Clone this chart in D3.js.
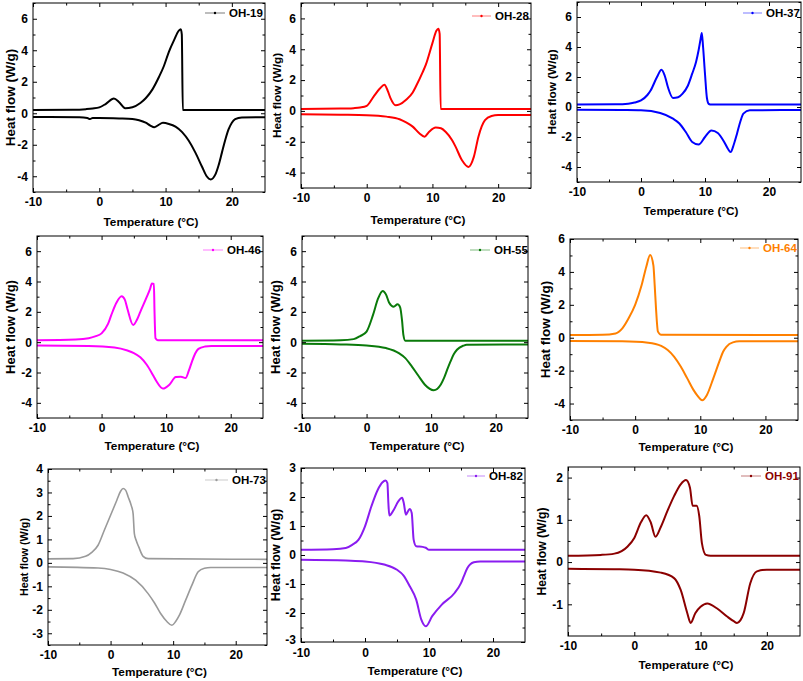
<!DOCTYPE html>
<html><head><meta charset="utf-8">
<script src="https://cdn.jsdelivr.net/npm/d3@7"></script>
<style>
html,body{margin:0;padding:0;background:#fff;}
svg{display:block;font-family:"Liberation Sans",Arial,sans-serif;}
</style></head>
<body>
<svg id="chart" width="803" height="681"></svg>
<script>
// ---- data: [temperature °C, heat flow W/g] ----
const sampleNames = ["OH-19","OH-28","OH-37","OH-46","OH-55","OH-64","OH-73","OH-82","OH-91"];
const sampleColors = ["#000000","#ff0000","#0000ff","#ff00ff","#0a7a0a","#ff8000","#9a9a9a","#8a1cf0","#8b0000"];
const legendTextColors = ["#000","#000","#000","#000","#000","#ff8000","#000","#000","#8b0000"];
const xTicksMajor = [-10,0,10,20];
const xTicksMinor = [-5,5,15];

const oh19Cool = [[-10,0.2],[-4,0.22],[-2,0.26],[-1,0.3],[0,0.37],[1,0.6],[2.2,0.93],[3,0.7],[3.9,0.32],[5,0.38],[6.2,0.65],[7,0.95],[8,1.5],[9,2.3],[9.75,3.0],[10.5,3.9],[11.3,4.66],[12,5.25],[12.3,5.34],[12.45,5.0],[12.6,0.2],[25,0.2]];
const oh19Heat = [[-10,-0.24],[-3,-0.26],[-1.8,-0.3],[-1.4,-0.37],[-1,-0.3],[0,-0.3],[3,-0.33],[5,-0.37],[6,-0.45],[7,-0.6],[7.7,-0.78],[8.3,-0.89],[8.9,-0.75],[9.6,-0.61],[10.5,-0.68],[11.5,-0.85],[12.5,-1.2],[13.5,-1.75],[14.5,-2.5],[15.5,-3.4],[16.2,-4.0],[16.8,-4.2],[17.5,-3.9],[18,-3.3],[18.5,-2.5],[19,-1.7],[19.5,-1.03],[20,-0.6],[20.5,-0.38],[21.5,-0.27],[25,-0.25]];
const oh28Cool = [[-10,0.13],[-4,0.15],[-2,0.18],[-1,0.22],[0,0.33],[1,0.9],[2,1.45],[2.7,1.7],[3.2,1.3],[3.6,0.85],[4.4,0.37],[5,0.42],[6,0.72],[7,1.2],[7.5,1.6],[8.5,2.5],[9,3.0],[10,4.4],[10.6,5.2],[10.9,5.33],[11.1,5.0],[11.25,0.13],[25,0.13]];
const oh28Heat = [[-10,-0.22],[-4,-0.25],[0,-0.28],[3,-0.37],[5,-0.54],[6,-0.75],[7,-1.02],[8,-1.45],[8.8,-1.67],[9.5,-1.35],[10.5,-1.07],[11.3,-1.12],[12,-1.35],[13,-1.9],[13.5,-2.3],[14.5,-3.2],[15.5,-3.63],[16.3,-2.98],[17,-1.67],[17.5,-1.0],[18,-0.59],[19,-0.33],[20,-0.27],[25,-0.27]];
const oh37Cool = [[-10,0.16],[-4,0.18],[-2,0.22],[-1,0.3],[0,0.44],[1,0.8],[1.5,1.1],[2.5,2.0],[3.2,2.49],[3.7,2.1],[4.2,1.33],[5,0.6],[5.8,0.65],[6.5,0.89],[7.3,1.4],[8,2.22],[8.6,3.0],[9,3.78],[9.3,4.5],[9.5,4.93],[9.7,4.0],[10,2.2],[10.3,0.6],[10.6,0.2],[11,0.16],[25,0.16]];
const oh37Heat = [[-10,-0.18],[-3,-0.2],[0,-0.22],[3,-0.4],[5,-0.78],[6,-1.1],[7,-1.67],[8,-2.33],[9,-2.5],[10,-2.0],[11,-1.56],[12,-1.73],[13,-2.33],[13.6,-2.8],[14,-3.0],[14.5,-2.5],[15,-1.78],[15.5,-1.0],[16,-0.44],[17,-0.22],[25,-0.2]];
const oh46Cool = [[-10,0.13],[-4,0.18],[-2,0.26],[-1,0.38],[0,0.58],[1,1.2],[1.5,1.78],[2.3,2.6],[3.1,3.03],[3.6,2.8],[4,2.2],[4.9,1.13],[5.5,1.5],[6,2.0],[7,2.98],[7.5,3.5],[7.8,3.86],[8.1,3.84],[8.2,2.0],[8.35,0.26],[8.7,0.13],[25,0.13]];
const oh46Heat = [[-10,-0.22],[-2,-0.25],[2,-0.35],[4,-0.55],[5,-0.72],[6,-1.0],[7,-1.49],[8,-2.2],[8.5,-2.58],[9.5,-3.06],[10.5,-2.8],[11.5,-2.3],[12.3,-2.28],[13,-2.37],[13.5,-1.9],[14,-1.28],[14.5,-0.75],[15,-0.44],[16,-0.29],[17,-0.25],[25,-0.25]];
const oh55Cool = [[-10,0.09],[-4,0.12],[-2,0.2],[-1,0.4],[0,0.7],[1,1.8],[1.8,2.9],[2.5,3.38],[3,3.15],[3.5,2.6],[4.2,2.34],[4.8,2.5],[5.2,2.3],[5.5,1.4],[5.7,0.48],[6,0.09],[25,0.09]];
const oh55Heat = [[-10,-0.11],[-4,-0.15],[0,-0.22],[3,-0.39],[5,-0.72],[6,-1.05],[7,-1.59],[8,-2.2],[9,-2.79],[10.4,-3.17],[11.5,-2.79],[12,-2.36],[12.5,-1.8],[13,-1.27],[13.5,-0.8],[14,-0.5],[15,-0.23],[15.5,-0.17],[25,-0.15]];
const oh64Cool = [[-10,0.16],[-5,0.18],[-3,0.26],[-2,0.55],[-1,1.18],[0,2.0],[1,3.2],[1.7,4.3],[2.3,5.03],[2.8,4.4],[3.0,3.2],[3.2,1.8],[3.5,0.37],[4,0.18],[25,0.16]];
const oh64Heat = [[-10,-0.2],[-2,-0.22],[2,-0.3],[4,-0.5],[5,-0.75],[6,-1.16],[7,-1.75],[8,-2.47],[9,-3.2],[9.5,-3.49],[10.3,-3.8],[11,-3.49],[12,-2.47],[13,-1.36],[13.5,-0.85],[14,-0.55],[15,-0.28],[16,-0.22],[25,-0.22]];
const oh73Cool = [[-10,0.17],[-6,0.18],[-4,0.28],[-3,0.45],[-2,0.75],[-1,1.39],[0,2.03],[1,2.67],[1.6,3.05],[2,3.17],[2.4,3.1],[2.8,2.82],[3.3,2.45],[3.6,2.1],[3.8,1.25],[4.1,0.95],[4.5,0.68],[5.2,0.28],[6,0.18],[25,0.15]];
const oh73Heat = [[-10,-0.17],[-2,-0.22],[0,-0.28],[2,-0.43],[4,-0.74],[6,-1.31],[7,-1.7],[8,-2.16],[9,-2.5],[9.8,-2.66],[10.4,-2.5],[11,-2.23],[12,-1.59],[13,-0.95],[14,-0.38],[15,-0.23],[16,-0.2],[25,-0.2]];
const oh82Cool = [[-10,0.18],[-5,0.2],[-3,0.24],[-2,0.35],[-1,0.53],[0,0.99],[1,1.68],[2,2.25],[2.7,2.5],[3.2,2.57],[3.5,2.48],[3.65,1.8],[3.8,1.36],[4.5,1.56],[5.2,1.85],[5.8,1.97],[6.05,1.8],[6.4,1.39],[6.7,1.5],[7,1.59],[7.3,1.45],[7.6,0.53],[8,0.3],[9,0.28],[9.5,0.25],[10,0.18],[25,0.18]];
const oh82Heat = [[-10,-0.16],[-3,-0.19],[0,-0.22],[3,-0.33],[5,-0.51],[6,-0.7],[7,-1.08],[8,-1.54],[8.8,-2.23],[9.5,-2.46],[10.5,-2.11],[12,-1.71],[14,-1.31],[15,-0.97],[15.5,-0.7],[16,-0.45],[17,-0.25],[18,-0.22],[25,-0.22]];
const oh91Cool = [[-10,0.15],[-5,0.17],[-3,0.2],[-1,0.37],[0,0.57],[1,0.94],[1.8,1.11],[2.5,0.93],[3.2,0.6],[4,0.83],[5,1.21],[6,1.56],[7,1.84],[7.8,1.94],[8.4,1.76],[8.8,1.33],[9.4,1.33],[9.8,1.09],[10.2,0.45],[10.8,0.17],[11.5,0.15],[25,0.15]];
const oh91Heat = [[-10,-0.16],[-3,-0.17],[0,-0.18],[4,-0.25],[6,-0.38],[7,-0.66],[8,-1.21],[8.5,-1.44],[9.2,-1.21],[10,-1.06],[11,-0.98],[12.5,-1.1],[14,-1.29],[15,-1.4],[15.5,-1.44],[16,-1.38],[16.5,-1.21],[17.5,-0.5],[18.5,-0.22],[20,-0.18],[25,-0.18]];

const yDomains = [[-5,7],[-5,7],[-5,7],[-5,7],[-5,7],[-5,6],[-3.5,4],[-3,3],[-1.75,2.25]];
const yTicksMajor = [[-4,-2,0,2,4,6],[-4,-2,0,2,4,6],[-4,-2,0,2,4,6],[-4,-2,0,2,4,6],[-4,-2,0,2,4,6],[-4,-2,0,2,4,6],[-3,-2,-1,0,1,2,3,4],[-3,-2,-1,0,1,2,3],[-1,0,1,2]];
const yTicksMinor = [[-5,-3,-1,1,3,5,7],[-5,-3,-1,1,3,5,7],[-5,-3,-1,1,3,5,7],[-5,-3,-1,1,3,5,7],[-5,-3,-1,1,3,5,7],[-5,-3,-1,1,3,5],[-3.5,-2.5,-1.5,-0.5,0.5,1.5,2.5,3.5],[-2.5,-1.5,-0.5,0.5,1.5,2.5],[-1.5,-0.5,0.5,1.5]];
const coolCurves = [oh19Cool,oh28Cool,oh37Cool,oh46Cool,oh55Cool,oh64Cool,oh73Cool,oh82Cool,oh91Cool];
const heatCurves = [oh19Heat,oh28Heat,oh37Heat,oh46Heat,oh55Heat,oh64Heat,oh73Heat,oh82Heat,oh91Heat];

// ---- layout (pixel frames of each panel; xt = centre line of x title) ----
const frames = [
  {l:33,r:265,t:3,b:192, xt:222, yt:10, yfs:13.5, xp:5, lg:[205,229,13]},
  {l:301,r:531,t:3,b:188, xt:220, yt:277, yfs:11.8, xp:5, lg:[472,495,16]},
  {l:577,r:801,t:2,b:182, xt:211, yt:552, yfs:11.8, xp:5, lg:[743,766,13]},
  {l:37,r:263,t:236,b:418, xt:446, yt:10, yfs:13, xp:5, lg:[203,227,250]},
  {l:302,r:528,t:236,b:418, xt:446, yt:275, yfs:13, xp:5, lg:[470,494,250]},
  {l:570,r:798,t:239,b:420, xt:447, yt:545, yfs:13.5, xp:5, lg:[740,763,248]},
  {l:48,r:267,t:469,b:645, xt:672, yt:24, yfs:10.8, xp:5, lg:[205,232,480]},
  {l:301,r:525,t:468,b:642, xt:671, yt:275, yfs:12.8, xp:6, lg:[467,489,476]},
  {l:568,r:800,t:467,b:636, xt:665, yt:542, yfs:12.2, xp:5, lg:[741,765,476]}
];

const svg = d3.select("#chart");
const fmt = d => String(d);

frames.forEach((f, i) => {
  const color = sampleColors[i];
  const x = d3.scaleLinear().domain([-10,25]).range([f.l, f.r]);
  const y = d3.scaleLinear().domain(yDomains[i]).range([f.b, f.t]);
  const g = svg.append("g");

  // curves
  const line = d3.line().x(d => x(d[0])).y(d => y(d[1])).curve(d3.curveMonotoneX);
  const clipId = "clip" + i;
  g.append("clipPath").attr("id", clipId).append("rect")
    .attr("x", f.l).attr("y", f.t).attr("width", f.r - f.l).attr("height", f.b - f.t);
  const cg = g.append("g").attr("clip-path", `url(#${clipId})`);
  [coolCurves[i], heatCurves[i]].forEach(c => {
    cg.append("path").datum(c).attr("d", line)
      .attr("fill","none").attr("stroke", color)
      .attr("stroke-width", i === 6 ? 1.6 : 2).attr("stroke-linejoin","round");
  });

  // axes with inward ticks
  const styleAxis = sel => {
    sel.select(".domain").remove();
    sel.selectAll(".tick line").attr("stroke","#000").attr("stroke-width",1);
    sel.selectAll("text").attr("font-family","'Liberation Sans',Arial,sans-serif")
      .attr("font-weight","bold").attr("font-size","12px").attr("fill","#000");
  };
  g.append("g").attr("transform",`translate(0,${f.b})`)
    .call(d3.axisBottom(x).tickValues(xTicksMajor).tickSize(-4).tickPadding(f.xp).tickFormat(fmt)).call(styleAxis);
  g.append("g").attr("transform",`translate(0,${f.b})`)
    .call(d3.axisBottom(x).tickValues(xTicksMinor).tickSize(-2.5).tickFormat("")).call(styleAxis);
  g.append("g").attr("transform",`translate(0,${f.t})`)
    .call(d3.axisTop(x).tickValues(xTicksMajor).tickSize(-4).tickFormat("")).call(styleAxis);
  g.append("g").attr("transform",`translate(0,${f.t})`)
    .call(d3.axisTop(x).tickValues(xTicksMinor).tickSize(-2.5).tickFormat("")).call(styleAxis);
  const yAxisG = g.append("g").attr("transform",`translate(${f.l},0)`)
    .call(d3.axisLeft(y).tickValues(yTicksMajor[i]).tickSize(-4).tickPadding(5).tickFormat(fmt)).call(styleAxis);
  // lift the lowest y label slightly so it clears the x labels at the corner
  yAxisG.selectAll(".tick text").filter(d => d === yDomains[i][0]).attr("dy", "0.1em");
  g.append("g").attr("transform",`translate(${f.l},0)`)
    .call(d3.axisLeft(y).tickValues(yTicksMinor[i]).tickSize(-2.5).tickFormat("")).call(styleAxis);
  g.append("g").attr("transform",`translate(${f.r},0)`)
    .call(d3.axisRight(y).tickValues(yTicksMajor[i]).tickSize(-4).tickFormat("")).call(styleAxis);
  g.append("g").attr("transform",`translate(${f.r},0)`)
    .call(d3.axisRight(y).tickValues(yTicksMinor[i]).tickSize(-2.5).tickFormat("")).call(styleAxis);

  // frame
  g.append("rect").attr("x", f.l).attr("y", f.t).attr("width", f.r - f.l).attr("height", f.b - f.t)
    .attr("fill","none").attr("stroke","#000").attr("stroke-width",1);

  // axis titles
  g.append("text").attr("x", (f.l + f.r) / 2 + 2).attr("y", f.xt)
    .attr("text-anchor","middle").attr("dominant-baseline","central")
    .attr("font-weight","bold").attr("font-size","11.8px")
    .text("Temperature (°C)");
  g.append("text").attr("transform", `translate(${f.yt},${(f.t + f.b) / 2}) rotate(-90)`)
    .attr("text-anchor","middle").attr("dominant-baseline","central")
    .attr("font-weight","bold").attr("font-size", f.yfs + "px")
    .text("Heat flow (W/g)");

  // legend
  const [lx0, tx, ly] = f.lg;
  g.append("line").attr("x1", lx0).attr("x2", tx - 4).attr("y1", ly).attr("y2", ly)
    .attr("stroke", color).attr("stroke-opacity", 0.35).attr("stroke-width", 1.5);
  g.append("circle").attr("cx", (lx0 + tx - 4) / 2).attr("cy", ly).attr("r", 1.2).attr("fill", color);
  g.append("text").attr("x", tx).attr("y", ly).attr("dominant-baseline","central")
    .attr("font-weight","bold").attr("font-size","11.5px").attr("fill", legendTextColors[i])
    .text(sampleNames[i]);
});
</script>
</body></html>
